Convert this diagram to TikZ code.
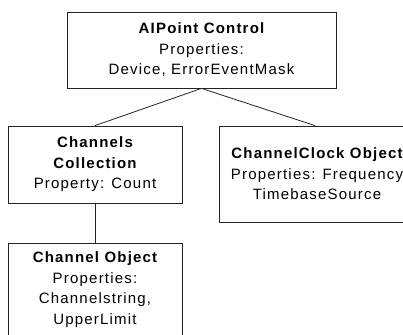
\documentclass[tikz,border=0pt]{standalone}
\usepackage{fontspec}
\usepackage{tikz}
\usetikzlibrary{positioning}
\newfontfamily\boxfont[LetterSpace=8]{Liberation Sans}
\definecolor{framegray}{RGB}{35,35,35}
\tikzset{
  objbox/.style={
    rectangle, draw=framegray, line width=0.8pt, align=center,
    inner sep=0pt, text=black,
    font=\boxfont\fontsize{15}{20.5}\selectfont
  },
  link/.style={draw=framegray, line width=0.8pt},
}

\begin{document}
\begin{tikzpicture}[x=1pt, y=1pt]
  \useasboundingbox (0,0) rectangle (403,334);
  \node[objbox, minimum width=269pt, minimum height=76pt] (ctrl) at (201.5,284)
    {{\bfseries AIPoint Control}\\Properties:\\Device, ErrorEventMask};
  \node[objbox, minimum width=174pt, minimum height=77pt] (coll) at (95,169.5)
    {{\bfseries Channels}\\{\bfseries Collection}\\Property: Count};
  \node[objbox, minimum width=196pt, minimum height=96pt] (clock) at (317,160)
    {{\bfseries ChannelClock Object}\\Properties: Frequency\\TimebaseSource};
  \node[objbox, minimum width=174pt, minimum height=92pt, below=40pt of coll] (chan)
    {{\bfseries Channel Object}\\Properties:\\Channelstring,\\UpperLimit};
  \draw[link] (ctrl.south) -- (coll.north);
  \draw[link] (ctrl.south) -- ([xshift=-2pt]clock.north);
  \draw[link] (coll) -- (chan);
\end{tikzpicture}
\end{document}
